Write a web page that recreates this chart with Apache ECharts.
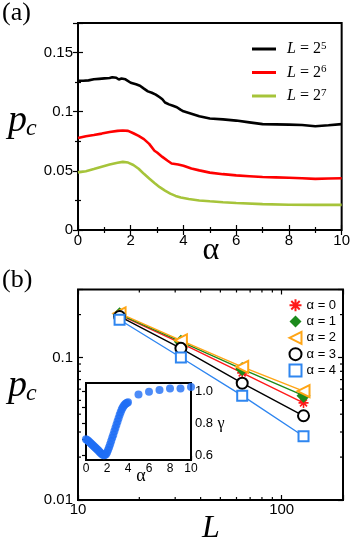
<!DOCTYPE html>
<html>
<head>
<meta charset="utf-8">
<script src="https://cdn.jsdelivr.net/npm/echarts@6/dist/echarts.min.js"></script>
<style>
html,body{margin:0;padding:0;background:#fff;}
#c{width:353px;height:543px;}
</style>
</head>
<body>
<div id="c"></div>
<script>
// ---------- Panel (a): p_c vs alpha ----------
var curveL5 = [[0,0.1262],[0.2,0.1262],[0.4,0.1265],[0.6,0.1274],[0.8,0.1278],[1.0,0.1282],[1.2,0.1285],[1.3,0.1292],[1.35,0.1282],[1.45,0.1287],[1.55,0.1272],[1.65,0.1280],[1.8,0.1274],[2.0,0.1245],[2.2,0.1232],[2.35,0.1220],[2.5,0.1195],[2.65,0.1172],[2.8,0.1160],[2.95,0.1145],[3.1,0.1122],[3.2,0.1105],[3.3,0.1078],[3.45,0.1062],[3.6,0.1050],[3.75,0.1038],[3.9,0.1015],[4.0,0.1003],[4.3,0.0983],[4.6,0.0962],[5.0,0.0942],[5.5,0.0935],[6.0,0.0925],[6.5,0.0910],[7.0,0.0895],[7.5,0.0893],[8.0,0.0891],[8.5,0.0888],[9.0,0.0877],[9.5,0.0885],[10,0.0895]];
var curveL6 = [[0,0.0778],[0.3,0.0793],[0.6,0.0803],[0.9,0.0815],[1.2,0.0828],[1.5,0.0838],[1.7,0.0841],[1.9,0.0838],[2.1,0.0818],[2.3,0.0795],[2.5,0.0768],[2.7,0.0728],[2.9,0.0670],[3.0,0.0655],[3.2,0.0618],[3.4,0.0585],[3.55,0.0562],[3.8,0.0553],[4.0,0.0543],[4.3,0.0520],[4.6,0.0504],[5.0,0.0485],[5.5,0.0472],[6.0,0.0462],[6.5,0.0455],[7.0,0.0448],[7.5,0.0445],[8.0,0.0442],[8.5,0.0438],[9.0,0.0432],[9.5,0.0435],[10,0.0437]];
var curveL7 = [[0,0.0487],[0.3,0.0497],[0.6,0.0515],[0.9,0.0535],[1.2,0.0553],[1.5,0.0568],[1.7,0.0576],[1.9,0.0570],[2.1,0.0550],[2.3,0.0518],[2.5,0.0475],[2.7,0.0435],[2.9,0.0398],[3.1,0.0362],[3.3,0.0333],[3.5,0.0308],[3.7,0.0288],[3.9,0.0275],[4.2,0.0262],[4.6,0.0250],[5.0,0.0243],[5.5,0.0235],[6.0,0.0228],[7.0,0.0219],[8.0,0.0214],[9.0,0.0212],[10,0.0212]];
var namesA = ['L = 2^5','L = 2^6','L = 2^7'];
var expA = ['5','6','7'];

// ---------- Panel (b): p_c vs L (log-log) ----------
var sizesL = [16, 32, 64, 128];
var pA0 = [0.199, 0.126, 0.078, 0.048];
var pA1 = [0.201, 0.129, 0.083, 0.054];
var pA2 = [0.204, 0.132, 0.086, 0.058];
var pA3 = [0.194, 0.116, 0.066, 0.039];
var pA4 = [0.184, 0.100, 0.054, 0.028];
var namesB = ['α = 0','α = 1','α = 2','α = 3','α = 4'];

// ---------- Inset: gamma vs alpha ----------
var alphaIn = [0,0.1,0.2,0.3,0.4,0.5,0.6,0.7,0.8,0.9,1.0,1.1,1.2,1.3,1.4,1.5,1.6,1.7,1.8,1.9,2.0,2.1,2.2,2.3,2.4,2.5,2.6,2.7,2.8,2.9,3.0,3.1,3.2,3.3,3.4,3.5,3.6,3.7,3.8,3.9,4.0,5,6,7,8,9,10];
var gammaIn = [0.700,0.695,0.690,0.684,0.678,0.672,0.665,0.659,0.652,0.646,0.640,0.634,0.627,0.620,0.613,0.607,0.603,0.600,0.601,0.606,0.617,0.632,0.650,0.668,0.688,0.708,0.728,0.749,0.770,0.790,0.810,0.830,0.850,0.868,0.885,0.898,0.908,0.916,0.922,0.926,0.930,0.979,0.996,1.006,1.016,1.016,1.025];

// tick values
var ticksAy = [0,0.05,0.1,0.15];
var minorLogX = [20,30,40,50,60,70,80,90];
var minorLogY = [0.02,0.03,0.04,0.05,0.06,0.07,0.08,0.09,0.2];
var insetYTicks = [0.6,0.7,0.8,0.9,1.0];
var insetYLabels = [0.6,0.8,1.0];

var SANS = 'Liberation Sans';
var SERIF = 'Liberation Serif';

function pairs(xs, ys){ return xs.map(function(x,i){ return [x, ys[i]]; }); }

var tickStyle = {show:true, inside:true, length:5, lineStyle:{color:'#000', width:1.2}};
var minorStyle = {show:true, splitNumber:2, length:3, lineStyle:{color:'#000', width:1.2}};
var labelStyle = {color:'#000', fontFamily:SANS, fontSize:15};

function isDecade(v){ var l = Math.log(v)/Math.LN10; return Math.abs(l-Math.round(l))<1e-6; }

var xAxes = [
  {gridIndex:0, type:'value', min:0, max:10, interval:2, position:'bottom', axisLine:{show:false}, axisTick:tickStyle, minorTick:minorStyle, splitLine:{show:false}, minorSplitLine:{show:false}, axisLabel:Object.assign({margin:3}, labelStyle)},
  {gridIndex:0, type:'value', min:0, max:10, interval:2, position:'top', axisLine:{show:false}, axisTick:tickStyle, minorTick:minorStyle, splitLine:{show:false}, axisLabel:{show:false}},
  {gridIndex:1, type:'log', logBase:10, min:10, max:200, position:'bottom', axisLine:{show:false}, axisTick:tickStyle, splitLine:{show:false}, axisLabel:Object.assign({margin:2, formatter:function(v){ return (isDecade(v) && v<150) ? String(Math.round(v)) : ''; }}, labelStyle)},
  {gridIndex:1, type:'log', logBase:10, min:10, max:200, position:'top', axisLine:{show:false}, axisTick:tickStyle, splitLine:{show:false}, axisLabel:{show:false}},
  {gridIndex:2, type:'value', min:0, max:10, interval:2, position:'bottom', axisLine:{show:false}, axisTick:{show:true, inside:true, length:4, lineStyle:{color:'#000', width:1.2}}, splitLine:{show:false}, axisLabel:{color:'#000', fontFamily:SANS, fontSize:12, margin:3}},
  {gridIndex:2, type:'value', min:0, max:10, interval:2, position:'top', axisLine:{show:false}, axisTick:{show:true, inside:true, length:4, lineStyle:{color:'#000', width:1.2}}, splitLine:{show:false}, axisLabel:{show:false}}
];
var yAxes = [
  {gridIndex:0, type:'value', min:0, max:0.175, interval:0.05, position:'left', axisLine:{show:false}, axisTick:tickStyle, minorTick:minorStyle, splitLine:{show:false}, minorSplitLine:{show:false}, axisLabel:Object.assign({margin:5, formatter:function(v){ var ok = ticksAy.some(function(t){return Math.abs(t-v)<1e-9;}); return ok ? String(+v.toFixed(3)) : ''; }}, labelStyle)},
  {gridIndex:0, type:'value', min:0, max:0.175, interval:0.05, position:'right', axisLine:{show:false}, axisTick:tickStyle, minorTick:minorStyle, splitLine:{show:false}, axisLabel:{show:false}},
  {gridIndex:1, type:'log', logBase:10, min:0.01, max:0.3, position:'left', axisLine:{show:false}, axisTick:tickStyle, splitLine:{show:false}, axisLabel:Object.assign({margin:5, formatter:function(v){ return (isDecade(v) && v<0.2) ? String(+v.toFixed(3)) : ''; }}, labelStyle)},
  {gridIndex:1, type:'log', logBase:10, min:0.01, max:0.3, position:'right', axisLine:{show:false}, axisTick:tickStyle, splitLine:{show:false}, axisLabel:{show:false}},
  {gridIndex:2, type:'value', min:0.57, max:1.05, position:'right', axisLine:{show:false}, axisTick:{show:true, inside:true, length:4, customValues:insetYTicks, lineStyle:{color:'#000', width:1.2}}, splitLine:{show:false}, axisLabel:{customValues:insetYLabels, color:'#000', fontFamily:SANS, fontSize:13, margin:4, formatter:function(v){ return v.toFixed(1); }}},
  {gridIndex:2, type:'value', min:0.57, max:1.05, position:'left', axisLine:{show:false}, axisTick:{show:true, inside:true, length:4, customValues:insetYTicks, lineStyle:{color:'#000', width:1.2}}, splitLine:{show:false}, axisLabel:{show:false}}
];

var lineColorsA = ['#000000','#ff0000','#a6c43a'];
var curvesA = [curveL5, curveL6, curveL7];
var series = [];
curvesA.forEach(function(c,i){
  series.push({type:'line', name:namesA[i], xAxisIndex:0, yAxisIndex:0, data:c, showSymbol:false, symbol:'none', lineStyle:{color:lineColorsA[i], width:2.6}, itemStyle:{color:lineColorsA[i]}, z:3});
});

var starPath = 'path://M5,0L5,10M0,5L10,5M1.5,1.5L8.5,8.5M1.5,8.5L8.5,1.5';
var triLeftPath = 'emptyPath://M0,5L10,0L10,10Z';
var colorsB = ['#ff1a1a','#1c8a1c','#ffa515','#000000','#2f86f0'];
var symbolsB = [starPath,'diamond',triLeftPath,'emptyCircle','emptyRect'];
var sizesB = [10,14,12,11,10];
var valsB = [pA0,pA1,pA2,pA3,pA4];
var orderB = [4,3,0,1,2];
orderB.forEach(function(i){
  series.push({type:'line', name:namesB[i], xAxisIndex:2, yAxisIndex:2, data:pairs(sizesL, valsB[i]),
    symbol:symbolsB[i], symbolSize:sizesB[i], showSymbol:true,
    lineStyle:{color:colorsB[i], width:1.4},
    itemStyle:{color:colorsB[i], borderColor:colorsB[i], borderWidth:(i===0?1.6:(i===1?0:1.3))}, z:4+i});
});

// log-axis minor ticks drawn through the axis scales
series.push({type:'custom', xAxisIndex:2, yAxisIndex:2, data:minorLogX.map(function(v){return [v];}), silent:true, z:6,
  renderItem:function(params, api){
    var v = api.value(0);
    var b = api.coord([v, 0.01]); var t = api.coord([v, 0.3]);
    var st = {stroke:'#000', lineWidth:1.2};
    return {type:'group', children:[
      {type:'line', shape:{x1:b[0], y1:b[1], x2:b[0], y2:b[1]-3}, style:st},
      {type:'line', shape:{x1:t[0], y1:t[1], x2:t[0], y2:t[1]+3}, style:st}
    ]};
  }, encode:{x:0}});
series.push({type:'custom', xAxisIndex:2, yAxisIndex:2, data:minorLogY.map(function(v){return [10, v];}), silent:true, z:6,
  renderItem:function(params, api){
    var v = api.value(1);
    var l = api.coord([10, v]); var r = api.coord([200, v]);
    var st = {stroke:'#000', lineWidth:1.2};
    return {type:'group', children:[
      {type:'line', shape:{x1:l[0], y1:l[1], x2:l[0]+3, y2:l[1]}, style:st},
      {type:'line', shape:{x1:r[0], y1:r[1], x2:r[0]-3, y2:r[1]}, style:st}
    ]};
  }, encode:{x:0, y:1}});

// inset scatter
series.push({type:'scatter', xAxisIndex:4, yAxisIndex:4, data:pairs(alphaIn, gammaIn), symbol:'circle', symbolSize:8, clip:false, itemStyle:{color:'#1f6ef5'}, z:10});

var option = {
  animation:false,
  backgroundColor:'#fff',
  grid:[
    {left:78, top:23, width:265, height:207, show:true, borderColor:'#000', borderWidth:2, backgroundColor:'transparent'},
    {left:78, top:289.5, width:265, height:210.5, show:true, borderColor:'#000', borderWidth:2, backgroundColor:'transparent'},
    {left:86, top:383, width:105, height:77, show:true, borderColor:'#000', borderWidth:2, backgroundColor:'#fff', z:5}
  ],
  xAxis:xAxes,
  yAxis:yAxes,
  legend:[
    {data:namesA.map(function(n){return {name:n, icon:'rect'};}), orient:'vertical', left:247, top:35.5, itemWidth:24, itemHeight:3, itemGap:6.5,
     formatter:function(n){ var i = namesA.indexOf(n); return '{g|}{i|L} = 2{s|' + expA[i] + '}'; },
     textStyle:{color:'#000', fontFamily:SERIF, fontSize:16, lineHeight:17, rich:{g:{width:6}, i:{fontStyle:'italic', fontFamily:SERIF, fontSize:16}, s:{fontFamily:SERIF, fontSize:11, verticalAlign:'top', lineHeight:11}}}},
    {data:namesB.map(function(n,i){return {name:n, icon:symbolsB[i]};}), orient:'vertical', left:283.5, top:292.5, itemWidth:12, itemHeight:12, itemGap:0.8,
     textStyle:{color:'#000', fontFamily:SANS, fontSize:13, lineHeight:15.5}}
  ],
  graphic:[
    {type:'text', left:2, top:0, style:{text:'(a)', font:'26px "Liberation Serif"', fill:'#000'}},
    {type:'text', left:2, top:267, style:{text:'(b)', font:'26px "Liberation Serif"', fill:'#000'}},
    {type:'text', x:8, y:140, style:{text:'p', font:'italic 38px "Liberation Serif"', fill:'#000', textVerticalAlign:'bottom'}},
    {type:'text', x:26, y:141, style:{text:'c', font:'italic 24px "Liberation Serif"', fill:'#000', textVerticalAlign:'bottom'}},
    {type:'text', x:8, y:405, style:{text:'p', font:'italic 38px "Liberation Serif"', fill:'#000', textVerticalAlign:'bottom'}},
    {type:'text', x:26, y:406, style:{text:'c', font:'italic 24px "Liberation Serif"', fill:'#000', textVerticalAlign:'bottom'}},
    {type:'text', x:211, y:251, style:{text:'α', font:'32px "Liberation Serif"', fill:'#000', textAlign:'center', textVerticalAlign:'middle'}},
    {type:'text', x:211, y:529, style:{text:'L', font:'italic 32px "Liberation Serif"', fill:'#000', textAlign:'center', textVerticalAlign:'middle'}},
    {type:'text', x:141, y:476, style:{text:'α', font:'18px "Liberation Serif"', fill:'#000', textAlign:'center', textVerticalAlign:'middle'}},
    {type:'text', x:221, y:424, style:{text:'γ', font:'16px "Liberation Serif"', fill:'#000', textAlign:'center', textVerticalAlign:'middle'}}
  ],
  series:series
};
var chart = echarts.init(document.getElementById('c'), null, {renderer:'canvas'});
chart.setOption(option);
</script>
</body>
</html>
